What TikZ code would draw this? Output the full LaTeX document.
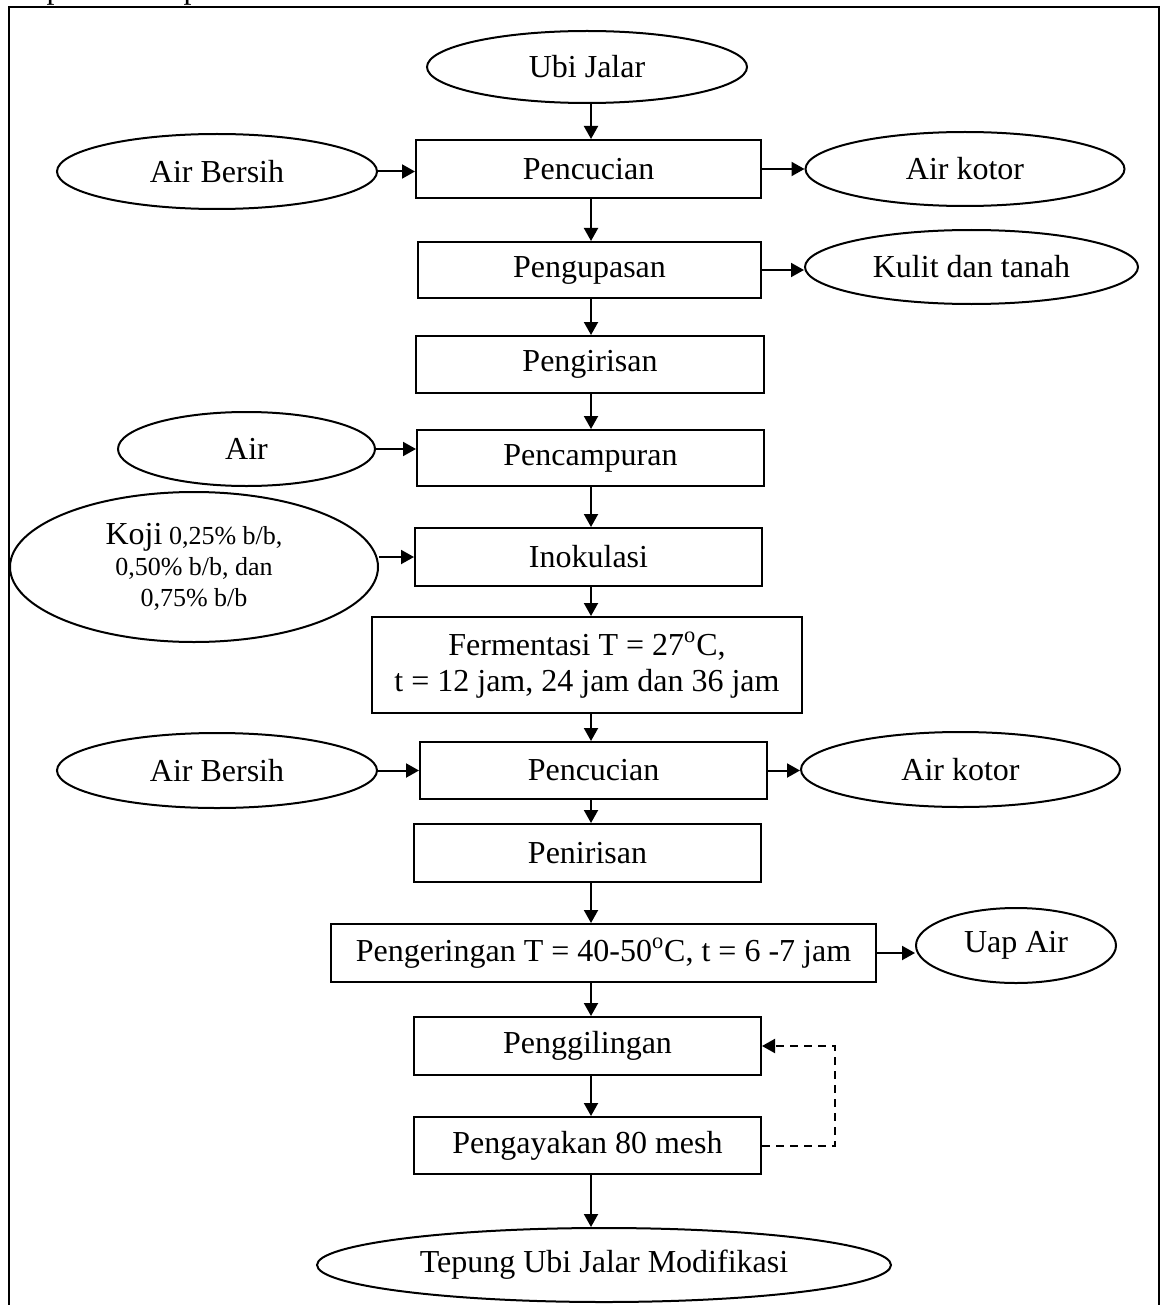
\documentclass[tikz,border=0pt]{standalone}
\usepackage{fontspec}
\setmainfont{Liberation Serif}
\usetikzlibrary{shapes.geometric,arrows.meta}

\tikzset{
  sz/.style 2 args={minimum width=#1*0.5pt, minimum height=#2*0.5pt},
  base/.style={draw, line width=1pt, inner sep=0pt, font=\fontsize{16}{19}\selectfont},
  procbox/.style={base, rectangle},
  io/.style={base, ellipse},
  arr/.style={line width=1pt, -{Triangle[length=6.5pt,width=7pt]}},
  loopline/.style={arr, dash pattern=on 4pt off 3pt},
}

\begin{document}
\begin{tikzpicture}[x=0.5pt,y=-0.5pt]
\useasboundingbox (0,0) rectangle (1162,1305);

% running text of the page above the frame
\node[anchor=base west, inner sep=0pt, font=\fontsize{16}{19}\selectfont] (pagetext) at (16,-1) {dapat dilihat pada Gambar 4.};

% frame
\draw[line width=1pt] (9,1345) -- (9,7) -- (1159,7) -- (1159,1345);

% main column
\node[io, sz={320}{72}] (ubi) at (587,67) {Ubi Jalar};
\node[procbox, sz={345}{58}] (pc1) at (588.5,169) {Pencucian};
\node[procbox, sz={343}{56}] (pk) at (589.5,270) {Pengupasan};
\node[procbox, sz={348}{57}] (pi) at (590,364.5) {Pengirisan};
\node[procbox, sz={347}{56}] (pm) at (590.5,458) {Pencampuran};
\node[procbox, sz={347}{58}] (ino) at (588.5,557) {Inokulasi};
\node[procbox, sz={430}{96}, align=center, font=\fontsize{16}{18}\selectfont] (fer) at (587,665)
  {Fermentasi T = 27\textsuperscript{o}C,\\t = 12 jam, 24 jam dan 36 jam};
\node[procbox, sz={347}{57}] (pc2) at (593.5,770.5) {Pencucian};
\node[procbox, sz={347}{58}] (pt) at (587.5,853) {Penirisan};
\node[procbox, sz={545}{58}] (pg) at (603.5,953) {Pengeringan T = 40-50\textsuperscript{o}C, t = 6 -7 jam};
\node[procbox, sz={347}{58}] (gil) at (587.5,1046) {Penggilingan};
\node[procbox, sz={347}{57}] (ayak) at (587.5,1145.5) {Pengayakan 80 mesh};
\node[io, sz={574}{74}] (tep) at (604,1265) {Tepung Ubi Jalar Modifikasi};

% inputs
\node[io, sz={320}{75}] (ab1) at (217,171.5) {Air Bersih};
\node[io, sz={257}{74}] (air) at (246.5,449) {Air};
\node[io, sz={368}{150}, align=center, font=\fontsize{13}{15.5}\selectfont] (koji) at (194,567)
  {{\fontsize{16}{15.5}\selectfont Koji} 0,25\% b/b,\\0,50\% b/b, dan\\0,75\% b/b};
\node[io, sz={320}{75}] (ab2) at (217,770.5) {Air Bersih};

% outputs
\node[io, sz={319}{74}] (ak1) at (965,169) {Air kotor};
\node[io, sz={333}{74}] (kt) at (971.5,267) {Kulit dan tanah};
\node[io, sz={319}{75}] (ak2) at (960.5,769.5) {Air kotor};
\node[io, sz={200}{75}] (uap) at (1016,945.5) {Uap Air};

% flow spine
\coordinate (spine) at (591,0);
\draw[arr] (ubi.south -| spine) -- (pc1.north -| spine);
\draw[arr] (pc1.south -| spine) -- (pk.north -| spine);
\draw[arr] (pk.south -| spine) -- (pi.north -| spine);
\draw[arr] (pi.south -| spine) -- (pm.north -| spine);
\draw[arr] (pm.south -| spine) -- (ino.north -| spine);
\draw[arr] (ino.south -| spine) -- (fer.north -| spine);
\draw[arr] (fer.south -| spine) -- (pc2.north -| spine);
\draw[arr] (pc2.south -| spine) -- (pt.north -| spine);
\draw[arr] (pt.south -| spine) -- (pg.north -| spine);
\draw[arr] (pg.south -| spine) -- (gil.north -| spine);
\draw[arr] (gil.south -| spine) -- (ayak.north -| spine);
\draw[arr] (ayak.south -| spine) -- (tep.north -| spine);

% side inputs
\draw[arr] (ab1.east) -- (ab1.east -| pc1.west);
\draw[arr] (air.east) -- (air.east -| pm.west);
\draw[arr] (koji.east |- ino.west) -- (ino.west);
\draw[arr] (ab2.east) -- (ab2.east -| pc2.west);

% side outputs
\draw[arr] (pc1.east) -- (pc1.east -| ak1.west);
\draw[arr] (pk.east) -- (pk.east -| kt.west);
\draw[arr] (pc2.east) -- (pc2.east -| ak2.west);
\draw[arr] (pg.east) -- (pg.east -| uap.west);

% oversize particles return to milling
\coordinate (ret) at (835,1095);
\draw[loopline] (ayak.east) -- (ayak.east -| ret) -- (gil.east -| ret) -- (gil.east);
\end{tikzpicture}
\end{document}
